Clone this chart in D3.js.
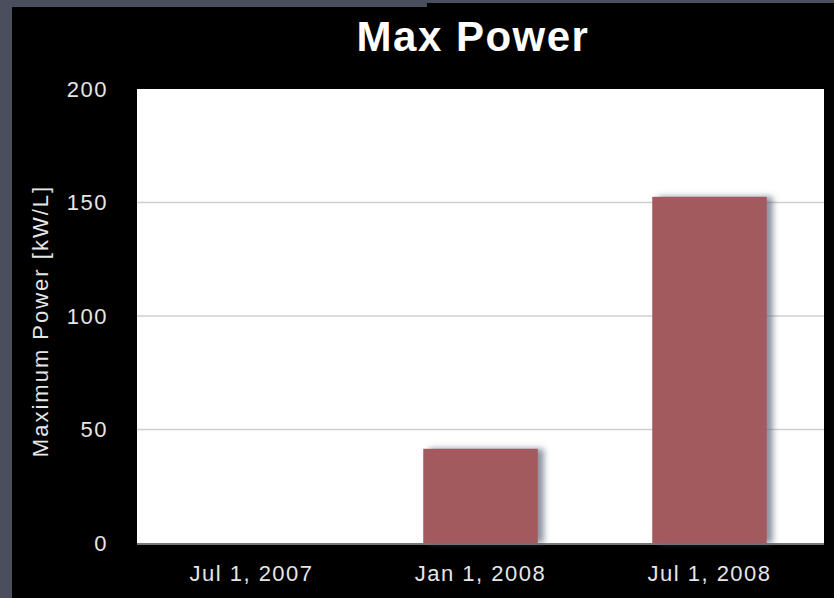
<!DOCTYPE html>
<html>
<head>
<meta charset="utf-8">
<script src="https://cdn.jsdelivr.net/npm/d3@7"></script>
<style>
  body { margin: 0; background: #4b4e5c; }
  svg { display: block; }
</style>
</head>
<body>
<svg id="chart"></svg>
<script>
// chart values
const categories = ["Jul 1, 2007", "Jan 1, 2008", "Jul 1, 2008"];
const maxPower = [0, 41.5, 152.5];
const yTicks = [0, 50, 100, 150, 200];
const title = "Max Power";
const yLabel = "Maximum Power [kW/L]";

const width = 834, height = 598;
const margin = { top: 89, right: 10, bottom: 55, left: 137 };

const svg = d3.select("#chart").attr("width", width).attr("height", height);

// slide frame: grey strips at left and top, black panel
svg.append("rect").attr("width", width).attr("height", height).attr("fill", "#4b4e5c");
svg.append("rect").attr("x", 12).attr("y", 7).attr("width", 415).attr("height", height).attr("fill", "#000");
svg.append("rect").attr("x", 427).attr("y", 3).attr("width", width - 427).attr("height", height).attr("fill", "#000");

const defs = svg.append("defs");
const shadow = defs.append("filter").attr("id", "shadow")
    .attr("x", "-20%").attr("y", "-10%").attr("width", "150%").attr("height", "120%");
shadow.append("feDropShadow")
    .attr("dx", 6).attr("dy", 0).attr("stdDeviation", 3)
    .attr("flood-color", "#5a6478").attr("flood-opacity", 0.7);

const x = d3.scaleBand()
    .domain(categories)
    .range([margin.left, width - margin.right])
    .paddingInner(0.5)
    .paddingOuter(0.25);

const y = d3.scaleLinear()
    .domain([0, 200])
    .range([height - margin.bottom, margin.top]);

// plot area
svg.append("rect")
    .attr("x", margin.left).attr("y", margin.top)
    .attr("width", width - margin.right - margin.left)
    .attr("height", y(0) - margin.top)
    .attr("fill", "#fff");
svg.append("line")
    .attr("x1", margin.left).attr("x2", width - margin.right)
    .attr("y1", y(0) + 1).attr("y2", y(0) + 1)
    .attr("stroke", "#777").attr("stroke-width", 2);

// grid
svg.append("g")
    .selectAll("line")
    .data(yTicks.filter(d => d > 0 && d < 200))
    .join("line")
    .attr("x1", margin.left).attr("x2", width - margin.right)
    .attr("y1", d => y(d)).attr("y2", d => y(d))
    .attr("stroke", "#cfcfcf").attr("stroke-width", 1.5);

// bars
svg.append("g")
    .selectAll("rect")
    .data(categories.map((c, i) => ({ c, v: maxPower[i] })).filter(d => d.v > 0))
    .join("rect")
    .attr("x", d => x(d.c))
    .attr("y", d => y(d.v))
    .attr("width", x.bandwidth())
    .attr("height", d => y(0) - y(d.v))
    .attr("fill", "#a35a5e")
    .attr("filter", "url(#shadow)");

// axes
const font = "'Liberation Sans', Arial, Helvetica, sans-serif";

const yAxis = svg.append("g")
    .attr("transform", `translate(${margin.left}, 0)`)
    .call(d3.axisLeft(y).tickValues(yTicks).tickSize(0).tickPadding(29));
yAxis.select(".domain").remove();
yAxis.selectAll("text")
    .attr("fill", "#e6e6e6")
    .style("font-family", font)
    .style("font-size", "22px")
    .style("letter-spacing", "1.5px");

const xAxis = svg.append("g")
    .attr("transform", `translate(0, ${y(0)})`)
    .call(d3.axisBottom(x).tickSize(0).tickPadding(22));
xAxis.select(".domain").remove();
xAxis.selectAll("text")
    .attr("fill", "#e6e6e6")
    .style("font-family", font)
    .style("font-size", "22px")
    .style("letter-spacing", "1.5px");

svg.append("text")
    .attr("transform", `translate(48, ${(margin.top + y(0)) / 2 + 5}) rotate(-90)`)
    .attr("text-anchor", "middle")
    .attr("fill", "#e6e6e6")
    .style("font-family", font)
    .style("font-size", "22px")
    .style("letter-spacing", "2px")
    .text(yLabel);

svg.append("text")
    .attr("x", 473).attr("y", 51)
    .attr("text-anchor", "middle")
    .attr("fill", "#fff")
    .style("font-family", font)
    .style("font-weight", "bold")
    .style("font-size", "42px")
    .style("letter-spacing", "1.5px")
    .text(title);
</script>
</body>
</html>
